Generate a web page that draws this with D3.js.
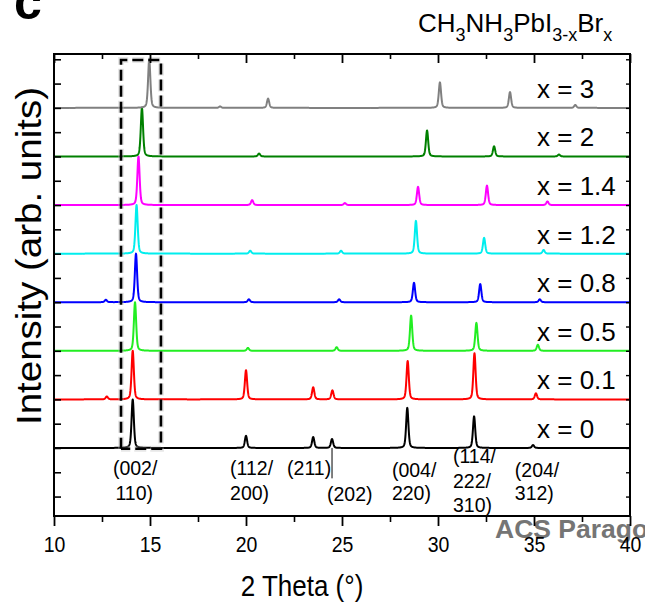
<!DOCTYPE html>
<html><head><meta charset="utf-8">
<script src="https://cdn.jsdelivr.net/npm/d3@7"></script>
<style>
body{margin:0;background:#fff}
svg{display:block}
text{font-family:"Liberation Sans",Arial,Helvetica,sans-serif}
</style>
</head><body>
<svg id="chart" width="645" height="605"></svg>
<script>
// ---------- data ----------
const seriesLabels = ["x = 0","x = 0.1","x = 0.5","x = 0.8","x = 1.2","x = 1.4","x = 2","x = 3"];
const seriesOffsets = [2,4,6,8,10,12,14,16];
const seriesColors = ["#000000","#ff0000","#22ee22","#0000ff","#00eeee","#ff00ff","#008000","#808080"];
// peaks: [2theta, height (arb. units)]
const peaksX0  = [[14.10,2.00],[20.00,0.50],[23.50,0.45],[24.48,0.37],[28.40,1.65],[31.88,1.30],[34.95,0.12]];
const peaksX01 = [[12.75,0.12],[14.10,2.00],[20.00,1.20],[23.50,0.50],[24.50,0.37],[28.42,1.58],[31.90,1.90],[35.10,0.25]];
const peaksX05 = [[14.22,2.00],[20.10,0.12],[24.72,0.15],[28.60,1.45],[32.00,1.15],[35.20,0.25]];
const peaksX08 = [[12.70,0.10],[14.27,2.00],[20.15,0.12],[24.85,0.12],[28.75,0.80],[32.20,0.75],[35.30,0.12]];
const peaksX12 = [[14.30,2.00],[20.22,0.12],[24.95,0.12],[28.85,1.35],[32.40,0.65],[35.50,0.15]];
const peaksX14 = [[14.40,2.00],[20.32,0.20],[25.15,0.08],[28.96,0.75],[32.55,0.80],[35.70,0.15]];
const peaksX2  = [[14.58,2.00],[20.68,0.12],[29.43,1.07],[32.92,0.42],[36.30,0.08]];
const peaksX3  = [[14.96,2.00],[18.65,0.06],[21.15,0.38],[30.10,1.05],[33.75,0.65],[37.15,0.12]];
const seriesPeaks = [peaksX0,peaksX01,peaksX05,peaksX08,peaksX12,peaksX14,peaksX2,peaksX3];

const xTickValues = [10,15,20,25,30,35,40];
const xMinorTicks = [12.5,17.5,22.5,27.5,32.5,37.5];
const yTickValues = d3.range(0,19,1);

// reflection labels: [2theta of left edge, level (arb. units), text]
const hklText = [
  [13.07, 0.89, "(002/"],[13.20,-0.14,"110)"],
  [19.17, 0.89, "(112/"],[19.17,-0.14,"200)"],
  [22.14, 0.89, "(211)"],
  [24.22,-0.20, "(202)"],
  [27.60, 0.81, "(004/"],[27.60,-0.14,"220)"],
  [30.78, 1.39, "(114/"],[30.78, 0.36,"222/"],[30.78,-0.63,"310)"],
  [34.00, 0.81, "(204/"],[34.00,-0.14,"312)"]
];
const markerTheta = 24.48;
const boxTheta = [13.49, 15.57];
const boxLevel = [1.97, 17.97];

// ---------- layout ----------
const svg = d3.select("#chart");
const L = 54, R = 630, T = 54, B = 516;
const x = d3.scaleLinear().domain([10,40]).range([L,R]);
const y = d3.scaleLinear().domain([-0.8,18.218]).range([B,T]);

// title & panel letter
svg.append("text").attr("x",14).attr("y",19).attr("font-size",50).attr("font-weight","bold").text("c");
const title = svg.append("text").attr("x",418).attr("y",32).attr("font-size",26);
const titleParts = [["CH",0],["3",1],["NH",0],["3",1],["PbI",0],["3-x",1],["Br",0],["x",1]];
titleParts.forEach(([t,s],i)=>{
  const prevSub = i>0 && titleParts[i-1][1];
  title.append("tspan").attr("font-size",s?18:26)
    .attr("dy", s?9:(prevSub?-9:null)).text(t);
});

// watermark
svg.append("text").attr("x",495).attr("y",538).attr("font-size",26.5).attr("font-weight","bold")
  .attr("fill","#757575").text("ACS Paragon");

// clip
svg.append("clipPath").attr("id","clip").append("rect").attr("x",L).attr("y",T).attr("width",R-L).attr("height",B-T);
const plot = svg.append("g").attr("clip-path","url(#clip)");

// curves
const grid = d3.range(10,40.0001,0.01);
function profile(peaks, t){
  let v = 0;
  for(const [p,h] of peaks){
    const w = 0.14, d = (t-p)/(w/2);
    const lor = 1/(1+d*d);
    const gau = Math.exp(-Math.LN2*d*d);
    v += h*(0.4*lor+0.6*gau);
  }
  return v;
}
const line = d3.line().x(d=>x(d[0])).y(d=>y(d[1]));
seriesPeaks.forEach((pk,i)=>{
  const pts = grid.map(t=>[t, seriesOffsets[i]+profile(pk,t)]);
  plot.append("path").attr("d",line(pts)).attr("fill","none")
    .attr("stroke",seriesColors[i]).attr("stroke-width",2).attr("stroke-linejoin","round");
});

// series labels
seriesLabels.forEach((s,i)=>{
  svg.append("text").attr("x",537).attr("y",y(seriesOffsets[i])-10).attr("font-size",26).text(s);
});

// dashed box
const boxPath = `M${x(boxTheta[0])},${y(boxLevel[0])}V${y(boxLevel[1])}H${x(boxTheta[1])}V${y(boxLevel[0])}H${x(boxTheta[0])}`;
svg.append("path").attr("d",boxPath).attr("fill","none").attr("stroke","#bbb").attr("stroke-opacity",0.35)
  .attr("stroke-width",6).attr("stroke-dasharray","12,4");
svg.append("path").attr("d",boxPath).attr("fill","none").attr("stroke","#000")
  .attr("stroke-width",2.6).attr("stroke-dasharray","11,5");

// (202) marker line
svg.append("line").attr("x1",x(markerTheta)).attr("x2",x(markerTheta))
  .attr("y1",y(seriesOffsets[0])).attr("y2",y(0.75)).attr("stroke","#000").attr("stroke-width",1);

// hkl labels
hklText.forEach(([t,l,s])=>{
  svg.append("text").attr("x",x(t)).attr("y",y(l)).attr("font-size",19.5).text(s);
});

// axes
svg.append("rect").attr("x",L).attr("y",T).attr("width",R-L).attr("height",B-T)
  .attr("fill","none").attr("stroke","#000").attr("stroke-width",2);

const axB = svg.append("g").attr("transform",`translate(0,${B})`)
  .call(d3.axisBottom(x).tickValues(xTickValues).tickSize(10).tickFormat(d3.format("d")));
axB.select(".domain").remove();
axB.selectAll("line").attr("stroke-width",1.8);
axB.selectAll("text").attr("font-size",19.5).attr("font-family","Liberation Sans, Arial, sans-serif")
  .attr("fill","#000").attr("y",null).attr("dy",null).attr("transform","translate(0,36) scale(1,1.15)");
const axBm = svg.append("g").attr("transform",`translate(0,${B})`)
  .call(d3.axisBottom(x).tickValues(xMinorTicks).tickSize(6).tickFormat(""));
axBm.select(".domain").remove();
axBm.selectAll("line").attr("stroke-width",1.6);

const axT = svg.append("g").attr("transform",`translate(0,${T})`)
  .call(d3.axisBottom(x).tickValues(xTickValues).tickSize(9).tickFormat(""));
axT.select(".domain").remove(); axT.selectAll("line").attr("stroke-width",1.8);
const axTm = svg.append("g").attr("transform",`translate(0,${T})`)
  .call(d3.axisBottom(x).tickValues(xMinorTicks).tickSize(5).tickFormat(""));
axTm.select(".domain").remove(); axTm.selectAll("line").attr("stroke-width",1.6);

const axL = svg.append("g").attr("transform",`translate(${L},0)`)
  .call(d3.axisRight(y).tickValues(yTickValues).tickSize(7).tickFormat(""));
axL.select(".domain").remove(); axL.selectAll("line").attr("stroke-width",1.6);
const axR = svg.append("g").attr("transform",`translate(${R},0)`)
  .call(d3.axisLeft(y).tickValues(yTickValues).tickSize(4).tickFormat(""));
axR.select(".domain").remove(); axR.selectAll("line").attr("stroke-width",1.4);

// axis titles
svg.append("text").attr("transform","translate(302,596) scale(1,1.13)").attr("text-anchor","middle")
  .attr("font-size",26).text("2 Theta (°)");
svg.append("text").attr("transform",`translate(41,256) rotate(-90) scale(1.1,1)`).attr("text-anchor","middle")
  .attr("font-size",35).text("Intensity (arb. units)");
</script>
</body></html>
